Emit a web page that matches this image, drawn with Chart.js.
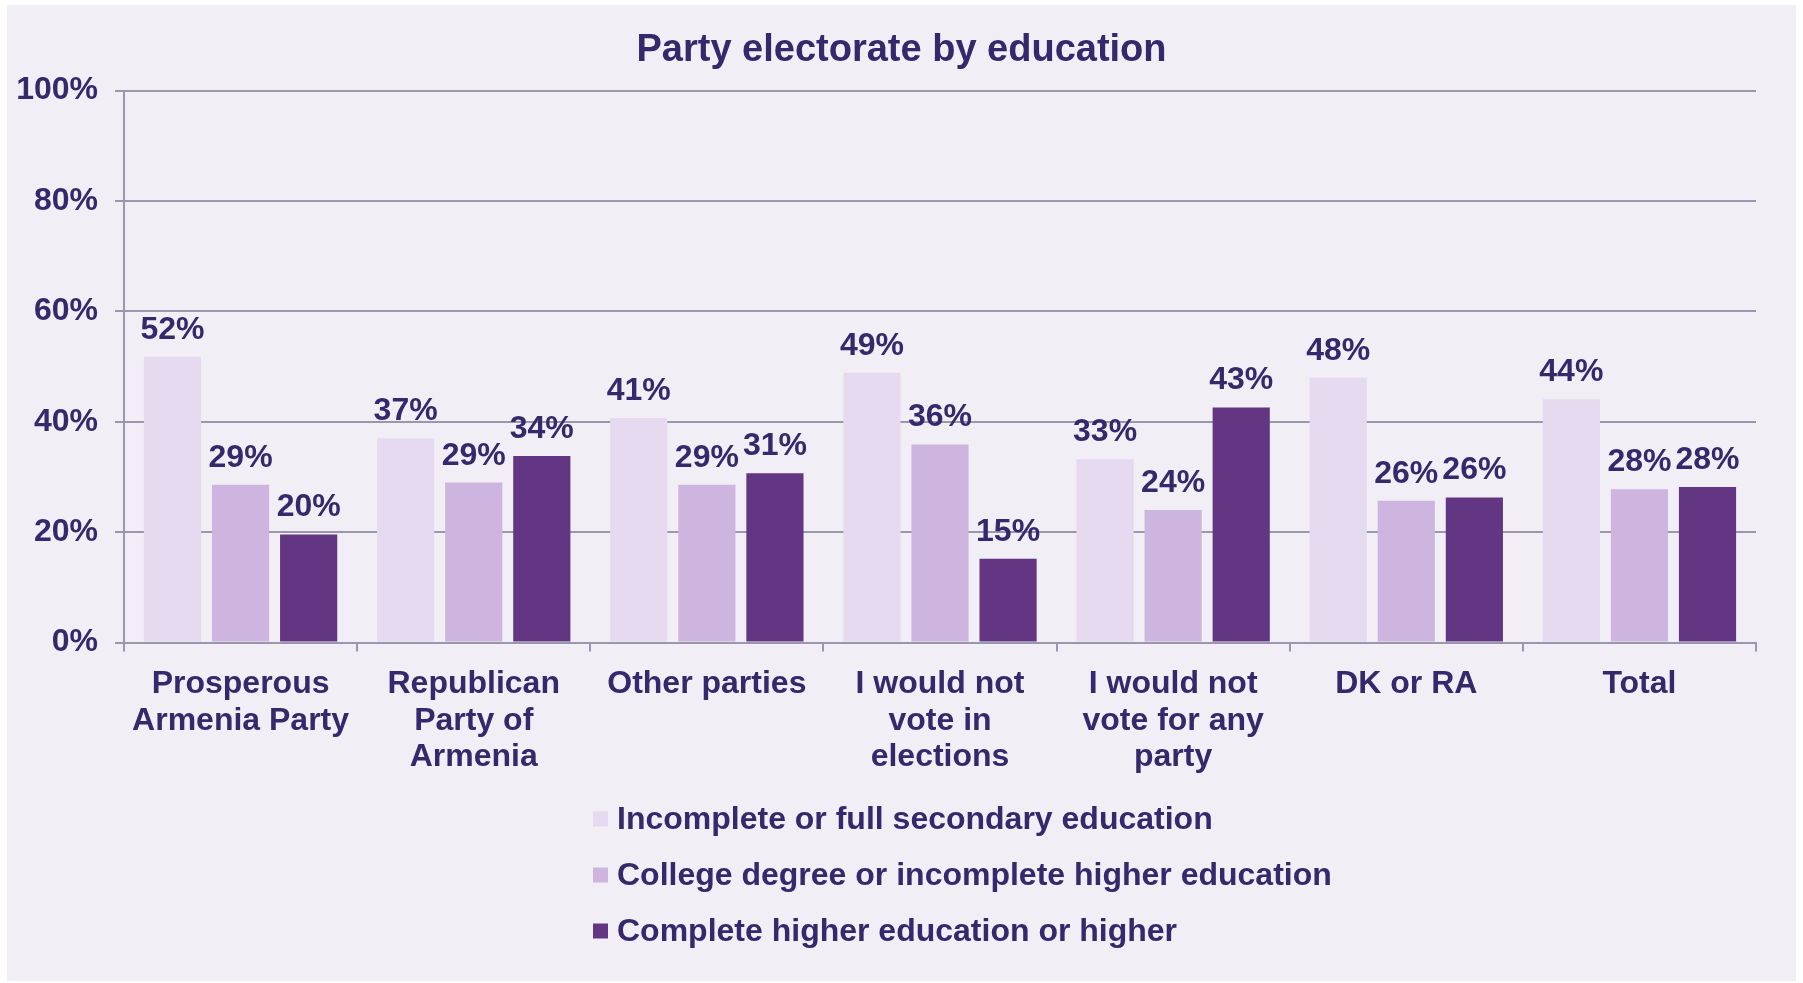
<!DOCTYPE html>
<html>
<head>
<meta charset="utf-8">
<script src="https://cdn.jsdelivr.net/npm/chart.js@4/dist/chart.umd.min.js"></script>
<style>
  html, body { margin: 0; padding: 0; background: #ffffff; }
  #panel { position: absolute; left: 7px; top: 5px; width: 1789px; height: 976px; background: #f1eef6; }
  canvas { display: block; }
</style>
</head>
<body>
<div id="panel"><canvas id="chart" width="1789" height="976"></canvas></div>
<script>
const CATEGORIES = [
  ['Prosperous', 'Armenia Party'],
  ['Republican', 'Party of', 'Armenia'],
  'Other parties',
  ['I would not', 'vote in', 'elections'],
  ['I would not', 'vote for any', 'party'],
  'DK or RA',
  'Total',
];
const SERIES_NAMES = [
  'Incomplete or full secondary education',
  'College degree or incomplete higher education',
  'Complete higher education or higher',
];
const SECONDARY = [51.8, 37.0, 40.7, 48.9, 33.2, 48.0, 44.1];
const COLLEGE   = [28.6, 29.0, 28.6, 35.9, 24.0, 25.7, 27.8];
const HIGHER    = [19.6, 33.8, 30.7, 15.2, 42.6, 26.3, 28.2];
const Y_TICKS = [0, 20, 40, 60, 80, 100];

const COLORS = ['#e6daf0', '#cdb5df', '#633683'];
const TEXT = '#35296b';
const GRID = '#9a97ac';
const FONT = '"Liberation Sans", Arial, sans-serif';

Chart.defaults.font.family = FONT;
Chart.defaults.color = TEXT;

// value labels above each bar
const barLabels = {
  id: 'barLabels',
  afterDatasetsDraw(chart) {
    const ctx = chart.ctx;
    ctx.save();
    ctx.font = `bold 32px ${FONT}`;
    ctx.fillStyle = TEXT;
    ctx.textAlign = 'center';
    ctx.textBaseline = 'alphabetic';
    chart.data.datasets.forEach((ds, i) => {
      chart.getDatasetMeta(i).data.forEach((bar, j) => {
        ctx.fillText(Math.round(ds.data[j]) + '%', bar.x, bar.y - 18);
      });
    });
    ctx.restore();
  },
};

// stacked legend under the axis, one entry per row
const stackedLegend = {
  id: 'stackedLegend',
  afterDraw(chart) {
    const ctx = chart.ctx;
    const x = 586, y0 = 814, step = 56, box = 15;
    ctx.save();
    ctx.font = `bold 32px ${FONT}`;
    ctx.textBaseline = 'middle';
    ctx.textAlign = 'left';
    chart.data.datasets.forEach((ds, i) => {
      const y = y0 + i * step;
      ctx.fillStyle = ds.backgroundColor;
      ctx.fillRect(x, y - box / 2, box, box);
      ctx.fillStyle = TEXT;
      ctx.fillText(ds.label, x + 24, y + 1);
    });
    ctx.restore();
  },
};

new Chart(document.getElementById('chart'), {
  type: 'bar',
  data: {
    labels: CATEGORIES,
    datasets: [
      { label: SERIES_NAMES[0], data: SECONDARY, backgroundColor: COLORS[0] },
      { label: SERIES_NAMES[1], data: COLLEGE, backgroundColor: COLORS[1] },
      { label: SERIES_NAMES[2], data: HIGHER, backgroundColor: COLORS[2] },
    ],
  },
  options: {
    responsive: false,
    animation: false,
    datasets: { bar: { categoryPercentage: 0.876, barPercentage: 0.84 } },
    layout: { padding: { left: 0, right: 0, top: 0, bottom: 191 } },
    plugins: {
      legend: { display: false },
      tooltip: { enabled: false },
      title: {
        display: true,
        text: 'Party electorate by education',
        color: TEXT,
        font: { size: 38, weight: 'bold' },
        padding: { top: 23, bottom: 17 },
      },
    },
    scales: {
      x: {
        grid: { display: true, drawOnChartArea: false, drawTicks: true, tickLength: 9, color: GRID, lineWidth: 2 },
        border: { display: true, color: GRID, width: 2 },
        ticks: { color: TEXT, font: { size: 32, weight: 'bold', lineHeight: 1.15 }, padding: 14, maxRotation: 0, autoSkip: false },
      },
      y: {
        min: 0,
        max: 100,
        afterBuildTicks: s => { s.ticks = Y_TICKS.map(v => ({ value: v })); },
        afterFit: s => { s.width = 117; },
        grid: { color: GRID, lineWidth: 2, tickLength: 9 },
        border: { display: true, color: GRID, width: 2 },
        ticks: { color: TEXT, font: { size: 32, weight: 'bold' }, padding: 17, callback: v => v + '%' },
      },
      // empty spacer on the right so the plot stops short of the panel edge
      gap: {
        position: 'right',
        min: 0,
        max: 100,
        afterFit: s => { s.width = 40; },
        grid: { display: false },
        border: { display: false },
        ticks: { display: false },
      },
    },
  },
  plugins: [barLabels, stackedLegend],
});
</script>
</body>
</html>
